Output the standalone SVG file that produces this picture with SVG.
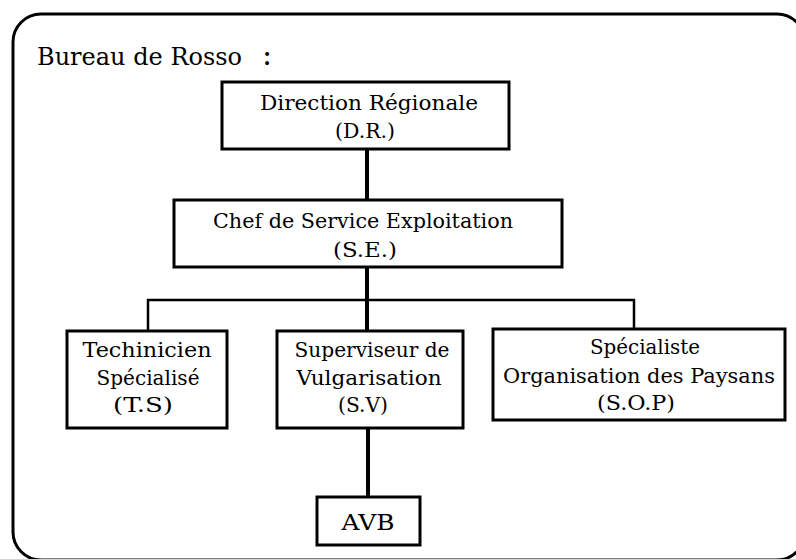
<svg xmlns="http://www.w3.org/2000/svg" width="796" height="559" viewBox="0 0 796 559">
  <style>
    .frame { fill: none; stroke: #000; stroke-width: 3; }
    .box { fill: #fff; stroke: #000; stroke-width: 3; }
    .link { fill: none; stroke: #000; stroke-linecap: square; }
    .thick { stroke-width: 4; }
    .thin { stroke-width: 2.5; }
    text { font-family: "DejaVu Serif", serif; font-size: 20px; fill: #000; text-anchor: middle; }
    .title { font-size: 25px; text-anchor: start; }
  </style>

  <rect width="796" height="559" fill="#fff"/>

  <!-- outer frame -->
  <rect class="frame" x="13" y="14" width="792" height="546" rx="28" ry="28"/>

  <g id="title">
    <text class="title" x="37" y="65" textLength="205" lengthAdjust="spacingAndGlyphs">Bureau de Rosso</text>
    <text class="title" x="262" y="65" style="font-size:30px">:</text>
  </g>

  <!-- connectors -->
  <g id="connectors">
    <line class="link thick" x1="367" y1="149" x2="367" y2="200"/>
    <line class="link thick" x1="367" y1="267" x2="367" y2="331"/>
    <polyline class="link thin" points="148,331 148,300 634,300 634,329"/>
    <line class="link thick" x1="368" y1="428" x2="368" y2="497"/>
  </g>

  <g id="dr">
    <rect class="box" x="222" y="82" width="287" height="67"/>
    <text x="369" y="110" textLength="218" lengthAdjust="spacingAndGlyphs">Direction Régionale</text>
    <text x="365" y="138" textLength="60" lengthAdjust="spacingAndGlyphs">(D.R.)</text>
  </g>

  <g id="se">
    <rect class="box" x="174" y="200" width="388" height="67"/>
    <text x="363" y="228" textLength="300" lengthAdjust="spacingAndGlyphs">Chef de Service Exploitation</text>
    <text x="365" y="257" textLength="64" lengthAdjust="spacingAndGlyphs">(S.E.)</text>
  </g>

  <g id="ts">
    <rect class="box" x="67" y="331" width="160" height="97"/>
    <text x="147" y="357" textLength="129" lengthAdjust="spacingAndGlyphs">Techinicien</text>
    <text x="148" y="385" textLength="103" lengthAdjust="spacingAndGlyphs">Spécialisé</text>
    <text x="143" y="412" textLength="60" lengthAdjust="spacingAndGlyphs">(T.S)</text>
  </g>

  <g id="sv">
    <rect class="box" x="277" y="331" width="186" height="97"/>
    <text x="372" y="357" textLength="155" lengthAdjust="spacingAndGlyphs">Superviseur de</text>
    <text x="369" y="385" textLength="145" lengthAdjust="spacingAndGlyphs">Vulgarisation</text>
    <text x="363" y="412" textLength="50" lengthAdjust="spacingAndGlyphs">(S.V)</text>
  </g>

  <g id="sop">
    <rect class="box" x="493" y="329" width="292" height="91"/>
    <text x="645" y="354" textLength="110" lengthAdjust="spacingAndGlyphs">Spécialiste</text>
    <text x="639" y="383" textLength="272" lengthAdjust="spacingAndGlyphs">Organisation des Paysans</text>
    <text x="636" y="410" textLength="78" lengthAdjust="spacingAndGlyphs">(S.O.P)</text>
  </g>

  <g id="avb">
    <rect class="box" x="317" y="497" width="103" height="48"/>
    <text x="368" y="530" textLength="53" lengthAdjust="spacingAndGlyphs" style="font-size:22px">AVB</text>
  </g>
</svg>
